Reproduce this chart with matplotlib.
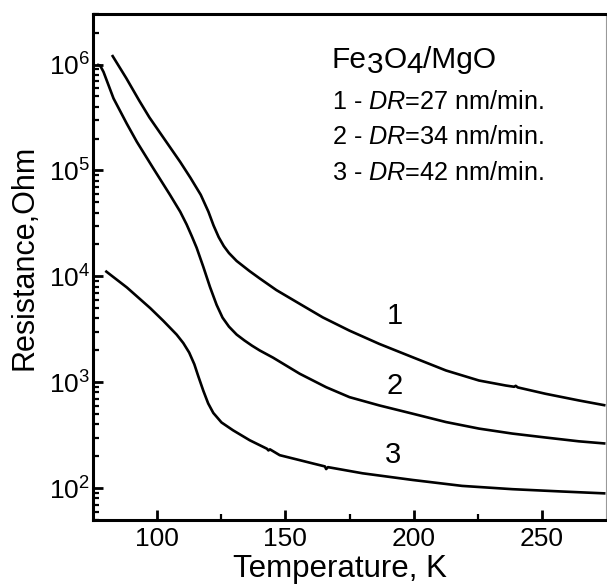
import matplotlib
matplotlib.use("Agg")
import matplotlib.pyplot as plt
from matplotlib.ticker import LogLocator, FixedLocator, NullFormatter
import numpy as np

plt.rcParams['font.family'] = ['Liberation Sans', 'DejaVu Sans']
plt.rcParams['mathtext.fontset'] = 'custom'
plt.rcParams['mathtext.rm'] = 'Liberation Sans'
plt.rcParams['mathtext.it'] = 'Liberation Sans:italic'
plt.rcParams['mathtext.bf'] = 'Liberation Sans:bold'

# Curve 1 (DR=27 nm/min): temperature (K), log10(R / Ohm)
T1 = [82.4, 88.0, 93.0, 97.0, 101.0, 105.0, 109.0, 113.0, 117.0, 120.0, 122.0, 124.0,
      126.0, 128.0, 131.0, 136.0, 140.0, 146.5, 155.6, 164.6, 175.0, 186.6, 199.6,
      212.6, 225.5, 235.9, 239.2, 239.8, 240.6, 251.4, 264.4, 274.8]
logR1 = [6.09, 5.87, 5.66, 5.50, 5.36, 5.22, 5.08, 4.93, 4.77, 4.61, 4.48, 4.37,
         4.285, 4.22, 4.145, 4.05, 3.98, 3.87, 3.74, 3.612, 3.487, 3.362, 3.236,
         3.111, 3.016, 2.969, 2.957, 2.966, 2.951, 2.891, 2.828, 2.781]

# Curve 2 (DR=34 nm/min)
T2 = [76.6, 77.8, 79.1, 83.0, 88.2, 92.1, 98.5, 105.0, 109.0, 111.5, 113.5, 115.4,
      118.0, 120.6, 123.2, 125.5, 128.0, 131.0, 134.0, 137.0, 140.0, 145.2, 155.6,
      165.9, 175.0, 186.6, 199.6, 212.6, 225.5, 238.5, 251.4, 264.4, 274.8]
logR2 = [6.0, 5.99, 5.93, 5.68, 5.44, 5.27, 5.02, 4.77, 4.61, 4.49, 4.38, 4.27,
         4.09, 3.90, 3.73, 3.61, 3.525, 3.45, 3.395, 3.345, 3.30, 3.232, 3.08,
         2.953, 2.859, 2.781, 2.703, 2.624, 2.562, 2.515, 2.478, 2.442, 2.421]

# Curve 3 (DR=42 nm/min)
T3 = [79.8, 88.2, 97.3, 102.4, 107.6, 110.2, 112.5, 114.5, 116.0, 118.0, 119.9, 121.9,
      125.1, 129.6, 136.1, 142.8, 143.4, 144.0, 147.8, 155.6, 160.7, 165.4, 165.9,
      166.6, 168.5, 180.1, 199.6, 218.9, 238.5, 257.9, 274.8]
logR3 = [4.052, 3.895, 3.70, 3.58, 3.45, 3.37, 3.28, 3.17, 3.06, 2.92, 2.80, 2.71,
         2.62, 2.546, 2.452, 2.372, 2.356, 2.366, 2.311, 2.264, 2.233, 2.205, 2.180,
         2.198, 2.190, 2.14, 2.077, 2.021, 1.99, 1.968, 1.95]

curves = [(T1, logR1), (T2, logR2), (T3, logR3)]
curve_labels = ["1", "2", "3"]
label_pos = [(192.5, 4250), (192.5, 930), (192.0, 205)]

# Title pieces: (text, baseline shift in px)
title_pieces = [("Fe", 0), ("3", -5), ("O", 0), ("4", -5), ("/MgO", 0)]
legend_lines = [r"1 - $\mathit{DR}$=27 nm/min.",
                r"2 - $\mathit{DR}$=34 nm/min.",
                r"3 - $\mathit{DR}$=42 nm/min."]

xmajor = [100, 150, 200, 250]
xminor = [125, 175, 225]

W, H = 607, 586
fig = plt.figure(figsize=(W/100, H/100), dpi=100)
ax = fig.add_axes([93/W, 1-520/H, (606-93)/W, (520-14)/H])

for T, lr in curves:
    ax.plot(T, 10**np.array(lr), color='black', lw=1.9, solid_joinstyle='round',
            solid_capstyle='butt')

ax.set_yscale('log')
ax.set_xlim(75, 275)
ax.set_ylim(50, 3e6)

ax.xaxis.set_major_locator(FixedLocator(xmajor))
ax.xaxis.set_minor_locator(FixedLocator(xminor))
ax.yaxis.set_major_locator(LogLocator(base=10, numticks=20))
ax.yaxis.set_minor_locator(LogLocator(base=10, subs=np.arange(2, 10), numticks=20))
ax.yaxis.set_minor_formatter(NullFormatter())

ax.tick_params(axis='both', which='major', direction='in', length=7, width=2.0,
               labelsize=19, top=False, right=False)
ax.tick_params(axis='x', which='major', pad=5)
ax.tick_params(axis='y', which='major', pad=2)
ax.tick_params(axis='both', which='minor', direction='in', length=4, width=1.6,
               top=False, right=False)

for s in ['left', 'bottom', 'top']:
    ax.spines[s].set_linewidth(2.2)
    ax.spines[s].set_color('black')
ax.spines['right'].set_linewidth(0.8)
ax.spines['right'].set_color('#999999')

ax.set_xlabel("Temperature, K", fontsize=22.5, va='center')
ax.xaxis.set_label_coords((340-93)/513, (520-569)/506)
ax.set_ylabel("Resistance,Ohm", fontsize=22, va='center')
ax.yaxis.set_label_coords((25-93)/513, (520-257)/506)

for lab, (x, y) in zip(curve_labels, label_pos):
    ax.text(x, y, lab, fontsize=21, ha='center', va='center')

# Title with lowered full-size digits
renderer = fig.canvas.get_renderer()
x0 = 332
y0 = H - 68  # baseline in px from bottom
for txt, dy in title_pieces:
    t = fig.text(x0/W, (y0 + dy)/H, txt, fontsize=21.5, ha='left', va='baseline')
    bb = t.get_window_extent(renderer=renderer)
    x0 += bb.width

for i, line in enumerate(legend_lines):
    fig.text(332/W, 1-(102+35.5*i)/H, line, fontsize=18.2, ha='left', va='center')

fig.savefig("out.png", dpi=100)
